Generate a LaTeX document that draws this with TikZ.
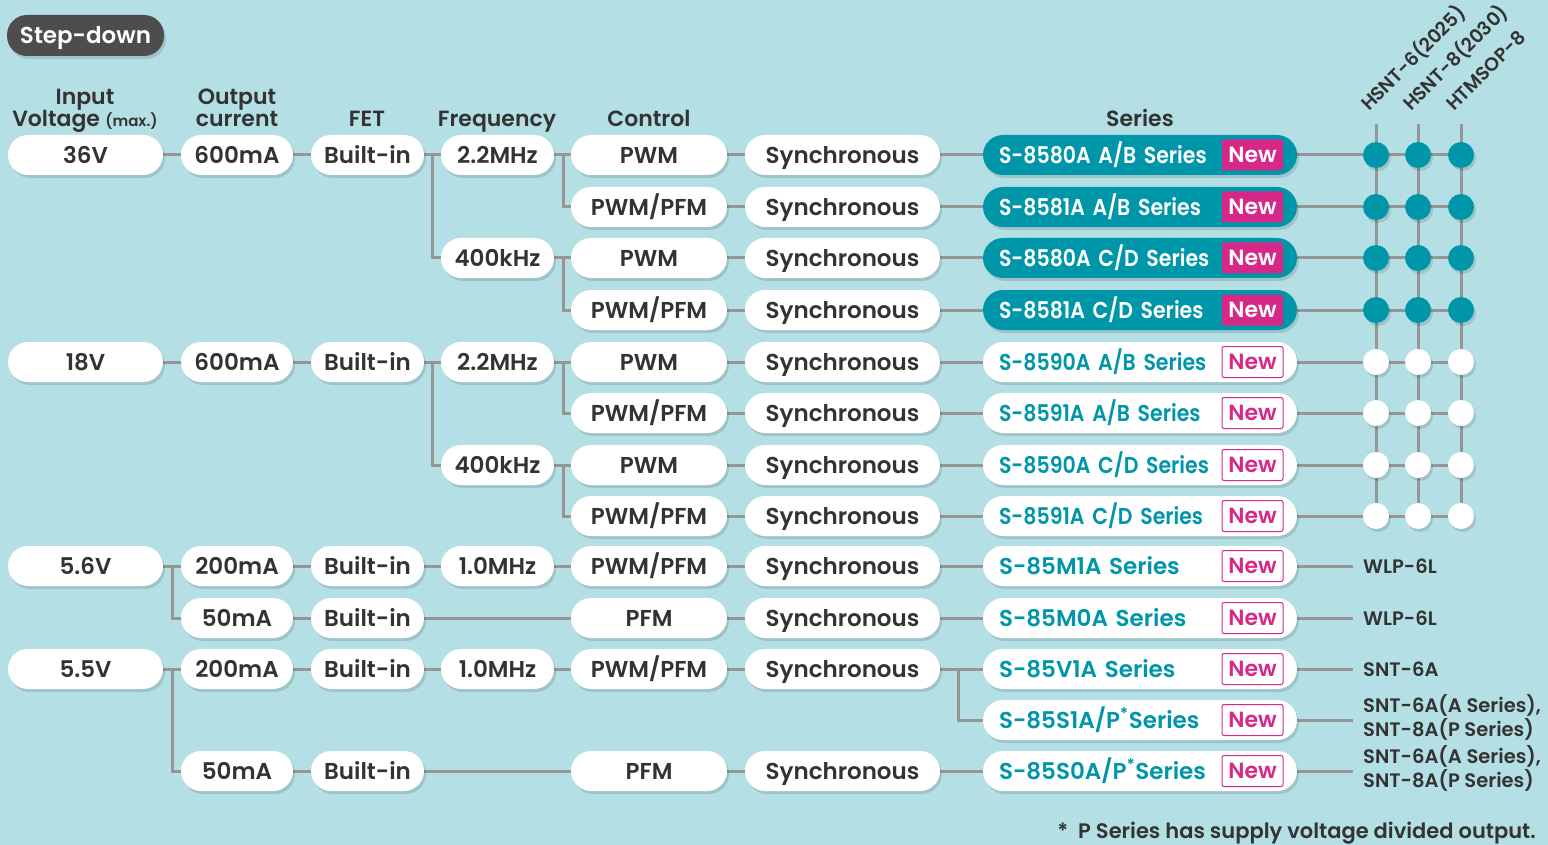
\documentclass[tikz,border=0pt]{standalone}
\usepackage{fontspec}
\setmainfont{Poppins}[BoldFont={* SemiBold}]
\newfontfamily\serc{Poppins}[FakeStretch=0.89,BoldFont={* SemiBold}]
\usetikzlibrary{shadows,calc}
\definecolor{bgc}{RGB}{180,224,229}
\definecolor{tealc}{RGB}{0,150,170}
\definecolor{magc}{RGB}{214,41,135}
\definecolor{darkc}{RGB}{51,51,51}
\definecolor{lgray}{RGB}{150,150,150}
\definecolor{pillc}{RGB}{77,77,77}
\pgfdeclarelayer{bglayer}
\pgfdeclarelayer{lines}
\pgfsetlayers{bglayer,lines,main}
\begin{document}
\begin{tikzpicture}[x=1pt,y=-1pt,
  shad/.style={drop shadow={shadow xshift=2pt,shadow yshift=-3pt,opacity=0.12,fill=black}},
  pill/.style={shad,rounded corners=20pt,fill=white,minimum height=40pt,inner sep=0pt,
    text=darkc,font=\fontsize{23}{26}\selectfont\bfseries,text height=16.5pt,text depth=0pt},
  serA/.style={pill,fill=tealc,text=white,minimum width=314pt,text width=282pt,align=left},
  serB/.style={pill,text=tealc,minimum width=314pt,text width=282pt,align=left},
  cond/.style={font=\fontsize{23}{26}\selectfont\serc\bfseries},
  newA/.style={fill=magc,text=white,minimum width=61pt,minimum height=31pt,rounded corners=2pt,
    inner sep=0pt,font=\fontsize{22}{24}\selectfont\bfseries,text height=15.5pt,text depth=0pt},
  newB/.style={newA,fill=white,draw=magc,line width=1pt,text=magc},
  dotA/.style={shad,circle,minimum size=26pt,inner sep=0pt,fill=tealc},
  dotB/.style={dotA,fill=white},
  head/.style={anchor=base,text=darkc,font=\fontsize{22}{24}\selectfont\bfseries,inner sep=0pt},
  pkg/.style={anchor=west,text=darkc,font=\fontsize{19.5}{24}\selectfont\bfseries,inner sep=0pt,align=left},
  rot/.style={rotate=45,anchor=base west,text=darkc,font=\fontsize{19}{22}\selectfont\bfseries,inner sep=0pt},
  conn/.style={draw=lgray,line width=3pt}
]
\begin{pgfonlayer}{bglayer}
\fill[bgc] (0,0) rectangle (1548,845);
\end{pgfonlayer}
\useasboundingbox (0,0) rectangle (1548,845);

% title
\node[shad,fill=pillc,rounded corners=20pt,minimum width=157pt,minimum height=41pt,inner sep=0pt,
  text=white,font=\fontsize{23}{26}\selectfont\bfseries,text height=16.5pt,text depth=0pt] (title) at (85.5,35.5) {Step-down};

% headers
\node[head] (h1a) at (85,105) {Input};
\node[head] (h1b) at (85,127) {Voltage {\fontsize{15}{16}\selectfont(max.)}};
\node[head] (h2a) at (237,105) {Output};
\node[head] (h2b) at (237,127) {current};
\node[head] (h3) at (367,127) {FET};
\node[head] (h4) at (497,127) {Frequency};
\node[head] (h5) at (649,127) {Control};
\node[head] (h6) at (1140,127) {Series};
\node[rot] (r1) at (1369,112) {HSNT-6(2025)};
\node[rot] (r2) at (1411,112) {HSNT-8(2030)};
\node[rot] (r3) at (1454,112) {HTMSOP-8};

% input voltage
\node[pill,minimum width=155pt] (v1) at (85.5,155) {36V};
\node[pill,minimum width=155pt] (v2) at (85.5,362) {18V};
\node[pill,minimum width=155pt] (v3) at (85.5,566) {5.6V};
\node[pill,minimum width=155pt] (v4) at (85.5,669) {5.5V};
% output current
\foreach \n/\yy/\t in {1/155/600mA,2/362/600mA,3/566/200mA,4/618/50mA,5/669/200mA,6/771/50mA}
  \node[pill,minimum width=112pt] (c\n) at (237,\yy) {\t};
% FET
\foreach \n/\yy in {1/155,2/362,3/566,4/618,5/669,6/771}
  \node[pill,minimum width=113pt] (f\n) at (367.5,\yy) {Built-in};
% frequency
\foreach \n/\yy/\t in {1/155/2.2MHz,2/258/400kHz,3/362/2.2MHz,4/465/400kHz,5/566/1.0MHz,6/669/1.0MHz}
  \node[pill,minimum width=113pt] (q\n) at (497.5,\yy) {\t};
% control
\foreach \r/\yy/\t in {1/155/PWM,2/207/{PWM/PFM},3/258/PWM,4/310/{PWM/PFM},5/362/PWM,6/413/{PWM/PFM},7/465/PWM,8/516/{PWM/PFM},9/566/{PWM/PFM},10/618/PFM,11/669/{PWM/PFM},13/771/PFM}
  \node[pill,minimum width=156pt] (k\r) at (649,\yy) {\t};
% synchronous
\foreach \r/\yy in {1/155,2/207,3/258,4/310,5/362,6/413,7/465,8/516,9/566,10/618,11/669,13/771}
  \node[pill,minimum width=195pt] (y\r) at (842.5,\yy) {Synchronous};
% series
\foreach \r/\yy/\t in {1/155/{S-8580A A/B Series},2/207/{S-8581A A/B Series},3/258/{S-8580A C/D Series},4/310/{S-8581A C/D Series}}{
  \node[serA,cond] (s\r) at (1140,\yy) {\t};
  \node[newA] (n\r) at (1252.5,\yy) {New};
}
\foreach \r/\yy/\t in {5/362/{S-8590A A/B Series},6/413/{S-8591A A/B Series},7/465/{S-8590A C/D Series},8/516/{S-8591A C/D Series}}{
  \node[serB,cond] (s\r) at (1140,\yy) {\t};
  \node[newB] (n\r) at (1252.5,\yy) {New};
}
\foreach \r/\yy/\t in {9/566/{S-85M1A Series},10/618/{S-85M0A Series},11/669/{S-85V1A Series},12/720/{S-85S1A/P\textsuperscript{*}Series},13/771/{S-85S0A/P\textsuperscript{*}Series}}{
  \node[serB] (s\r) at (1140,\yy) {\t};
  \node[newB] (n\r) at (1252.5,\yy) {New};
}
% package dots
\foreach \r/\yy in {1/155,2/207,3/258,4/310}
  \foreach \c/\xx in {1/1376,2/1418,3/1461}
    \node[dotA] (d\r\c) at (\xx,\yy) {};
\foreach \r/\yy in {5/362,6/413,7/465,8/516}
  \foreach \c/\xx in {1/1376,2/1418,3/1461}
    \node[dotB] (d\r\c) at (\xx,\yy) {};
\coordinate (t1) at (1376,124);
\coordinate (t2) at (1418,124);
\coordinate (t3) at (1461,124);
% package names
\node[pkg] (p9) at (1363,566) {WLP-6L};
\node[pkg] (p10) at (1363,618) {WLP-6L};
\node[pkg] (p11) at (1363,669) {SNT-6A};
\node[pkg] (p12) at (1363,717) {SNT-6A(A Series),\\SNT-8A(P Series)};
\node[pkg] (p13) at (1363,768) {SNT-6A(A Series),\\SNT-8A(P Series)};
% footnote
\node[anchor=base east,inner sep=0pt,text=darkc,font=\fontsize{21}{23}\selectfont\bfseries] (fn) at (1536,838) {*\ \ P Series has supply voltage divided output.};

% connectors
\begin{pgfonlayer}{lines}
\draw[conn] (v1) -- (c1);
\draw[conn] (c1) -- (f1);
\draw[conn] (f1) -- (q1);
\draw[conn] (f1.east) -- ++(8,0) |- (q2.west);
\draw[conn] (q1) -- (k1);
\draw[conn] (q1.east) -- ++(9,0) |- (k2.west);
\draw[conn] (q2) -- (k3);
\draw[conn] (q2.east) -- ++(9,0) |- (k4.west);
\draw[conn] (v2) -- (c2);
\draw[conn] (c2) -- (f2);
\draw[conn] (f2) -- (q3);
\draw[conn] (f2.east) -- ++(8,0) |- (q4.west);
\draw[conn] (q3) -- (k5);
\draw[conn] (q3.east) -- ++(9,0) |- (k6.west);
\draw[conn] (q4) -- (k7);
\draw[conn] (q4.east) -- ++(9,0) |- (k8.west);
\draw[conn] (v3) -- (c3);
\draw[conn] (v3.east) -- ++(9,0) |- (c4.west);
\draw[conn] (c3) -- (f3);
\draw[conn] (f3) -- (q5);
\draw[conn] (q5) -- (k9);
\draw[conn] (c4) -- (f4);
\draw[conn] (f4) -- (k10);
\draw[conn] (v4) -- (c5);
\draw[conn] (v4.east) -- ++(9,0) |- (c6.west);
\draw[conn] (c5) -- (f5);
\draw[conn] (f5) -- (q6);
\draw[conn] (q6) -- (k11);
\draw[conn] (c6) -- (f6);
\draw[conn] (f6) -- (k13);
\foreach \r in {1,...,11,13}
  \draw[conn] (k\r) -- (y\r);
\foreach \r in {1,...,11,13}
  \draw[conn] (y\r) -- (s\r);
\draw[conn] (y11.east) -- ++(18,0) |- (s12.west);
\foreach \r in {1,...,8}
  \draw[conn] (s\r.east) -- (d\r3.center);
\foreach \c in {1,2,3}
  \draw[conn] (t\c) -- (d8\c.center);
\foreach \r in {9,...,13}
  \draw[conn] (s\r.east) -- ([xshift=-10pt]s\r.east -| p\r.west);
\end{pgfonlayer}
\end{tikzpicture}
\end{document}
